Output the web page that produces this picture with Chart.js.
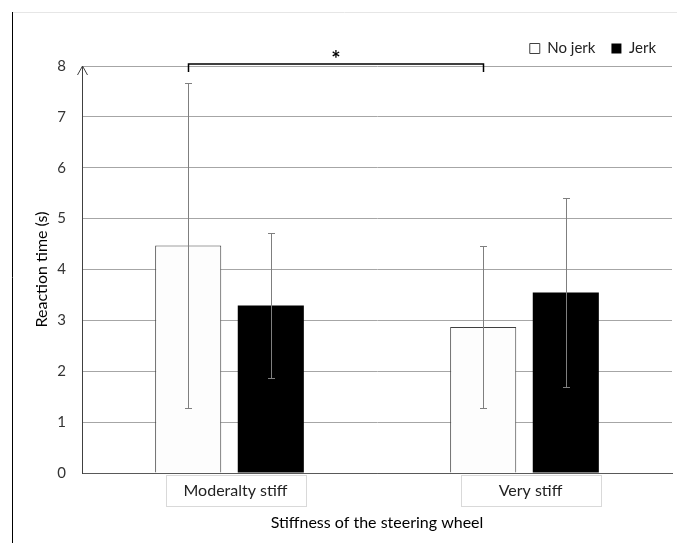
<!DOCTYPE html>
<html>
<head>
<meta charset="utf-8">
<script src="https://cdn.jsdelivr.net/npm/chart.js@4"></script>
<style>
  html, body { margin: 0; padding: 0; background: #fff; }
</style>
</head>
<body>
<canvas id="chart" width="677" height="543"></canvas>
<script>
// data
const categories = ['Moderalty stiff', 'Very stiff'];
const seriesNames = ['No jerk', 'Jerk'];
const noJerk = [4.47, 2.87];
const jerk = [3.29, 3.55];
const noJerkErr = [3.2, 1.6];
const jerkErr = [1.42, 1.86];
const yTicks = [0, 1, 2, 3, 4, 5, 6, 7, 8];
const sigPair = [0, 1]; // bracket between the two "No jerk" bars
const sigLabel = '*';

const errors = [noJerkErr, jerkErr];
const FONT = 'Lato, "Open Sans", sans-serif';
const TEXT = '#333';

// frame lines, category boxes, axis arrow, error bars, bracket
const extras = {
    id: 'extras',
    beforeDraw(chart) {
        const ctx = chart.ctx;
        ctx.save();
        ctx.lineWidth = 1;
        ctx.strokeStyle = '#e6e6e6';
        ctx.beginPath();
        ctx.moveTo(12, 12.5);
        ctx.lineTo(677, 12.5);
        ctx.stroke();
        ctx.strokeStyle = '#000';
        ctx.beginPath();
        ctx.moveTo(12.5, 12);
        ctx.lineTo(12.5, 543);
        ctx.stroke();

        // boxes around category labels
        const x = chart.scales.x;
        ctx.strokeStyle = '#d9d9d9';
        categories.forEach((c, i) => {
            const cx = x.getPixelForValue(i) + 6;
            ctx.strokeRect(Math.round(cx - 70) + 0.5, 475.5, 140, 31);
        });
        ctx.restore();
    },
    afterDatasetsDraw(chart) {
        const ctx = chart.ctx;
        const y = chart.scales.y;
        const area = chart.chartArea;
        ctx.save();

        // error bars
        ctx.strokeStyle = '#7f7f7f';
        ctx.lineWidth = 1;
        chart.data.datasets.forEach((ds, i) => {
            const meta = chart.getDatasetMeta(i);
            meta.data.forEach((bar, j) => {
                const bx = Math.round(bar.x) + 0.5;
                const top = Math.round(y.getPixelForValue(ds.data[j] + errors[i][j])) + 0.5;
                const bot = Math.round(y.getPixelForValue(ds.data[j] - errors[i][j])) + 0.5;
                ctx.beginPath();
                ctx.moveTo(bx, top);
                ctx.lineTo(bx, bot);
                ctx.moveTo(bx - 3.5, top);
                ctx.lineTo(bx + 3.5, top);
                ctx.moveTo(bx - 3.5, bot);
                ctx.lineTo(bx + 3.5, bot);
                ctx.stroke();
            });
        });

        // arrow on the y axis
        const ax = Math.round(area.left) + 0.5;
        ctx.strokeStyle = '#404040';
        ctx.beginPath();
        ctx.moveTo(ax - 5, area.top + 9);
        ctx.lineTo(ax, area.top);
        ctx.lineTo(ax + 5, area.top + 9);
        ctx.stroke();

        // significance bracket
        const meta0 = chart.getDatasetMeta(0);
        const x1 = Math.round(meta0.data[sigPair[0]].x) + 0.5;
        const x2 = Math.round(meta0.data[sigPair[1]].x) + 0.5;
        const by = y.getPixelForValue(8) - 2;
        ctx.strokeStyle = '#000';
        ctx.lineWidth = 1.5;
        ctx.beginPath();
        ctx.moveTo(x1, by + 8);
        ctx.lineTo(x1, by);
        ctx.lineTo(x2, by);
        ctx.lineTo(x2, by + 8);
        ctx.stroke();
        ctx.fillStyle = '#000';
        ctx.font = 'bold 22px ' + FONT;
        ctx.textAlign = 'center';
        ctx.textBaseline = 'middle';
        ctx.fillText(sigLabel, (x1 + x2) / 2, by - 4);
        ctx.restore();
    }
};

new Chart(document.getElementById('chart'), {
    type: 'bar',
    data: {
        labels: categories,
        datasets: [
            {
                label: seriesNames[0],
                data: noJerk,
                backgroundColor: '#fdfdfd',
                borderColor: '#404040',
                borderWidth: 1,
                categoryPercentage: 0.56,
                barPercentage: 0.8
            },
            {
                label: seriesNames[1],
                data: jerk,
                backgroundColor: '#000',
                borderColor: '#000',
                borderWidth: 0,
                categoryPercentage: 0.56,
                barPercentage: 0.8
            }
        ]
    },
    options: {
        responsive: false,
        animation: false,
        layout: { padding: { top: 25, left: 20, right: 5, bottom: 8 } },
        plugins: {
            legend: {
                position: 'top',
                align: 'end',
                labels: {
                    boxWidth: 10,
                    boxHeight: 10,
                    padding: 16,
                    color: '#222',
                    font: { family: FONT, size: 15 }
                }
            },
            tooltip: { enabled: false }
        },
        scales: {
            x: {
                grid: { display: false, drawTicks: false },
                border: { color: '#595959' },
                ticks: {
                    color: '#222',
                    padding: 8,
                    labelOffset: 6,
                    font: { family: FONT, size: 16 }
                },
                title: {
                    display: true,
                    text: 'Stiffness of the steering wheel',
                    color: '#000',
                    font: { family: FONT, size: 16 },
                    padding: { top: 0, bottom: 3 }
                },
                afterFit(scale) { scale.height = 62; }
            },
            y: {
                min: 0,
                max: 8,
                afterBuildTicks(scale) { scale.ticks = yTicks.map(v => ({ value: v })); },
                grid: {
                    drawTicks: false,
                    color: ctx => ctx.tick && ctx.tick.value === 0 ? '#595959' : '#a6a6a6'
                },
                border: { color: '#404040' },
                ticks: {
                    color: TEXT,
                    padding: 16,
                    font: { family: FONT, size: 15 }
                },
                title: {
                    display: true,
                    text: 'Reaction time (s)',
                    color: '#000',
                    font: { family: FONT, size: 16 },
                    padding: { top: 12, bottom: 0 }
                },
                afterFit(scale) { scale.width = 62; }
            }
        }
    },
    plugins: [extras]
});
</script>
</body>
</html>
